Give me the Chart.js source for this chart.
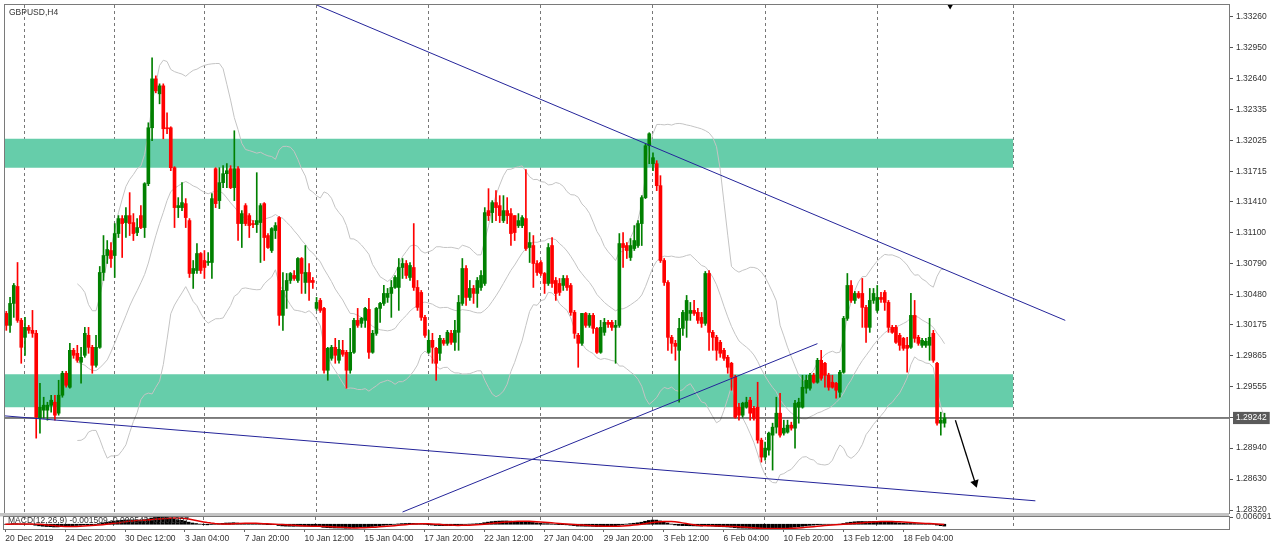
<!DOCTYPE html>
<html><head><meta charset="utf-8">
<script src="https://cdn.jsdelivr.net/npm/chart.js@4.4.1/dist/chart.umd.min.js"></script>
<style>
html,body{margin:0;padding:0;background:#fff;}
#wrap{position:relative;width:1280px;height:551px;overflow:hidden;background:#fff}
#c1{position:absolute;left:0;top:0}
#c2{position:absolute;left:0;top:513px}
</style></head><body>
<div id="wrap"><canvas id="c1" width="1280" height="520" style="width:1280px;height:520px"></canvas><canvas id="c2" width="1280" height="38" style="width:1280px;height:38px"></canvas></div>
<script>
// ---- data (GBPUSD H4, bar index 0 = first visible bar) ----
const opens=[1.3029,1.3017,1.3039,1.3056,1.3022,1.3005,1.3015,1.3012,1.3009,1.2924,1.2932,1.2932,1.2937,1.2940,1.2929,1.2947,1.2969,1.2955,1.2992,1.2989,1.2980,1.2987,1.3007,1.2995,1.2977,1.2995,1.3070,1.3087,1.3092,1.3087,1.3109,1.3124,1.3120,1.3127,1.3120,1.3110,1.3127,1.3115,1.3159,1.3215,1.3264,1.3249,1.3257,1.3215,1.3215,1.3175,1.3135,1.3135,1.3139,1.3122,1.3069,1.3072,1.3089,1.3082,1.3080,1.3080,1.3174,1.3142,1.3160,1.3169,1.3174,1.3155,1.3174,1.3119,1.3137,1.3127,1.3119,1.3118,1.3120,1.3139,1.3107,1.3092,1.3112,1.3125,1.3027,1.3052,1.3062,1.3067,1.3062,1.3084,1.3060,1.3070,1.3062,1.3034,1.3042,1.3034,1.2972,1.2984,1.2995,1.2982,1.2992,1.2990,1.2972,1.2990,1.3022,1.3019,1.3022,1.3033,1.2990,1.3009,1.3034,1.3039,1.3045,1.3049,1.3055,1.3055,1.3075,1.3079,1.3065,1.3075,1.3055,1.3050,1.3025,1.2990,1.3002,1.2994,1.2989,1.3002,1.2999,1.3009,1.3000,1.3010,1.3039,1.3074,1.3045,1.3054,1.3049,1.3055,1.3059,1.3132,1.3130,1.3140,1.3137,1.3122,1.3132,1.3129,1.3127,1.3117,1.3117,1.3124,1.3095,1.3097,1.3079,1.3080,1.3069,1.3059,1.3097,1.3062,1.3059,1.3057,1.3064,1.3057,1.3030,1.3007,1.2999,1.3029,1.3017,1.3027,1.3014,1.2990,1.3010,1.3020,1.3020,1.3015,1.3017,1.3099,1.3097,1.3085,1.3094,1.3097,1.3119,1.3145,1.3197,1.3179,1.3179,1.3157,1.3082,1.3060,1.3005,1.2999,1.2992,1.3014,1.3022,1.3029,1.3032,1.3030,1.3025,1.3019,1.3069,1.3010,1.3005,1.3000,1.2992,1.2985,1.2979,1.2965,1.2935,1.2927,1.2935,1.2942,1.2934,1.2935,1.2902,1.2885,1.2892,1.2907,1.2915,1.2929,1.2909,1.2910,1.2917,1.2914,1.2935,1.2935,1.2954,1.2954,1.2967,1.2960,1.2982,1.2979,1.2967,1.2960,1.2959,1.2950,1.2970,1.3024,1.3057,1.3042,1.3049,1.3049,1.3035,1.3015,1.3042,1.3032,1.3045,1.3050,1.3040,1.3015,1.3015,1.3007,1.3004,1.2997,1.2995,1.3027,1.3005,1.2997,1.2997,1.2997,1.3009,1.2979,1.2919,1.2919];
const highs=[1.3031,1.3045,1.3059,1.3080,1.3024,1.3025,1.3017,1.3032,1.3012,1.2959,1.2945,1.2940,1.2947,1.2947,1.2962,1.2971,1.2971,1.2999,1.2994,1.2997,1.2995,1.3015,1.3015,1.2997,1.3007,1.3076,1.3107,1.3102,1.3100,1.3119,1.3127,1.3127,1.3135,1.3150,1.3129,1.3124,1.3137,1.3160,1.3220,1.3285,1.3267,1.3259,1.3259,1.3230,1.3216,1.3176,1.3145,1.3160,1.3144,1.3124,1.3082,1.3099,1.3090,1.3092,1.3090,1.3149,1.3175,1.3175,1.3177,1.3179,1.3177,1.3212,1.3176,1.3132,1.3139,1.3129,1.3122,1.3170,1.3139,1.3140,1.3109,1.3115,1.3120,1.3126,1.3070,1.3069,1.3070,1.3072,1.3085,1.3085,1.3097,1.3079,1.3065,1.3045,1.3044,1.3035,1.2995,1.2997,1.3004,1.3002,1.3002,1.2992,1.3014,1.3024,1.3034,1.3025,1.3035,1.3044,1.3012,1.3035,1.3040,1.3057,1.3054,1.3062,1.3067,1.3084,1.3084,1.3082,1.3080,1.3119,1.3062,1.3052,1.3027,1.3012,1.3009,1.2995,1.3007,1.3004,1.3012,1.3012,1.3022,1.3047,1.3084,1.3077,1.3062,1.3057,1.3065,1.3072,1.3135,1.3154,1.3142,1.3152,1.3147,1.3147,1.3145,1.3134,1.3127,1.3129,1.3127,1.3173,1.3110,1.3107,1.3082,1.3082,1.3070,1.3099,1.3105,1.3065,1.3064,1.3067,1.3067,1.3059,1.3032,1.3009,1.3029,1.3030,1.3029,1.3029,1.3015,1.3022,1.3024,1.3022,1.3022,1.3022,1.3109,1.3110,1.3100,1.3104,1.3117,1.3122,1.3147,1.3199,1.3210,1.3190,1.3182,1.3167,1.3084,1.3062,1.3007,1.3002,1.3024,1.3032,1.3047,1.3040,1.3042,1.3034,1.3030,1.3071,1.3072,1.3012,1.3007,1.3002,1.2994,1.2987,1.2980,1.2967,1.2939,1.2940,1.2945,1.2945,1.2936,1.2960,1.2904,1.2900,1.2910,1.2919,1.2945,1.2949,1.2922,1.2922,1.2920,1.2942,1.2944,1.2967,1.2967,1.2969,1.2969,1.2984,1.2992,1.2980,1.2969,1.2967,1.2960,1.2972,1.3026,1.3069,1.3062,1.3051,1.3051,1.3064,1.3037,1.3054,1.3054,1.3057,1.3050,1.3052,1.3042,1.3017,1.3017,1.3009,1.3005,1.3005,1.3049,1.3042,1.3007,1.3004,1.3004,1.3024,1.3012,1.2980,1.2930,1.2929];
const lows=[1.3012,1.3010,1.3025,1.3020,1.2979,1.2987,1.3009,1.3005,1.2904,1.2909,1.2924,1.2922,1.2930,1.2922,1.2927,1.2945,1.2955,1.2954,1.2984,1.2980,1.2959,1.2985,1.2989,1.2969,1.2975,1.2994,1.3062,1.3079,1.3075,1.3065,1.3105,1.3085,1.3105,1.3107,1.3102,1.3107,1.3114,1.3105,1.3157,1.3202,1.3250,1.3239,1.3204,1.3209,1.3172,1.3115,1.3125,1.3132,1.3115,1.3065,1.3054,1.3069,1.3069,1.3064,1.3077,1.3064,1.3135,1.3134,1.3155,1.3155,1.3154,1.3142,1.3102,1.3095,1.3117,1.3105,1.3115,1.3110,1.3080,1.3082,1.3094,1.3090,1.3104,1.3017,1.3012,1.3034,1.3059,1.3062,1.3060,1.3049,1.3049,1.3042,1.3054,1.3032,1.3030,1.2969,1.2962,1.2982,1.2979,1.2979,1.2986,1.2954,1.2969,1.2989,1.3015,1.3015,1.3015,1.2984,1.2989,1.3007,1.3020,1.3037,1.3040,1.3025,1.3054,1.3032,1.3064,1.3064,1.3062,1.3052,1.3032,1.3022,1.3005,1.2989,1.2979,1.2962,1.2982,1.2997,1.2997,1.2998,1.2992,1.2992,1.3037,1.3037,1.3042,1.3039,1.3035,1.3052,1.3057,1.3122,1.3120,1.3122,1.3120,1.3120,1.3119,1.3097,1.3102,1.3115,1.3115,1.3092,1.3080,1.3055,1.3067,1.3067,1.3049,1.3057,1.3055,1.3042,1.3047,1.3052,1.3052,1.3027,1.3004,1.2975,1.2997,1.3015,1.3015,1.3009,1.2989,1.2989,1.3007,1.3015,1.3012,1.2979,1.3015,1.3075,1.3084,1.3082,1.3092,1.3095,1.3097,1.3144,1.3179,1.3172,1.3152,1.3080,1.3057,1.2992,1.2989,1.2982,1.2940,1.3007,1.3005,1.3022,1.3027,1.3019,1.3015,1.3017,1.2992,1.2992,1.2982,1.2985,1.2982,1.2969,1.2952,1.2924,1.2922,1.2925,1.2934,1.2922,1.2922,1.2899,1.2880,1.2882,1.2887,1.2872,1.2909,1.2905,1.2907,1.2909,1.2912,1.2894,1.2919,1.2934,1.2949,1.2952,1.2959,1.2959,1.2962,1.2955,1.2952,1.2954,1.2944,1.2945,1.2969,1.3022,1.3040,1.3039,1.3044,1.3015,1.3000,1.3010,1.3039,1.3030,1.3040,1.3032,1.3010,1.3009,1.2999,1.2992,1.2992,1.2970,1.2994,1.3000,1.2997,1.2995,1.2995,1.2982,1.2980,1.2917,1.2907,1.2915];
const closes=[1.3017,1.3039,1.3057,1.3022,1.2995,1.3015,1.3012,1.3009,1.2925,1.2935,1.2937,1.2937,1.2942,1.2927,1.2947,1.2969,1.2957,1.2992,1.2987,1.2982,1.2985,1.3009,1.2995,1.2977,1.2995,1.3070,1.3087,1.3093,1.3084,1.3109,1.3124,1.3119,1.3127,1.3119,1.3109,1.3115,1.3115,1.3159,1.3215,1.3264,1.3252,1.3257,1.3214,1.3214,1.3175,1.3135,1.3137,1.3140,1.3125,1.3069,1.3074,1.3089,1.3072,1.3075,1.3081,1.3144,1.3139,1.3160,1.3169,1.3172,1.3155,1.3174,1.3119,1.3129,1.3119,1.3117,1.3118,1.3122,1.3137,1.3105,1.3095,1.3114,1.3117,1.3027,1.3052,1.3062,1.3069,1.3064,1.3084,1.3069,1.3070,1.3060,1.3060,1.3040,1.3032,1.2972,1.2994,1.2995,1.2987,1.2993,1.2988,1.2972,1.2990,1.3022,1.3017,1.3024,1.3034,1.2990,1.3009,1.3034,1.3039,1.3049,1.3049,1.3055,1.3065,1.3075,1.3079,1.3067,1.3077,1.3055,1.3035,1.3025,1.3007,1.3002,1.2995,1.2979,1.3004,1.2999,1.3010,1.3000,1.3012,1.3040,1.3074,1.3045,1.3054,1.3049,1.3062,1.3067,1.3130,1.3127,1.3140,1.3135,1.3127,1.3132,1.3127,1.3109,1.3110,1.3122,1.3125,1.3094,1.3100,1.3079,1.3070,1.3069,1.3059,1.3095,1.3059,1.3049,1.3050,1.3064,1.3055,1.3030,1.3009,1.2999,1.3029,1.3017,1.3027,1.3014,1.2990,1.3015,1.3020,1.3018,1.3015,1.3017,1.3099,1.3095,1.3092,1.3097,1.3102,1.3119,1.3145,1.3197,1.3209,1.3185,1.3157,1.3082,1.3060,1.3005,1.2999,1.2996,1.3014,1.3030,1.3042,1.3032,1.3029,1.3022,1.3019,1.3069,1.3010,1.3005,1.2992,1.2989,1.2984,1.2975,1.2965,1.2925,1.2927,1.2939,1.2940,1.2929,1.2924,1.2902,1.2885,1.2894,1.2909,1.2915,1.2929,1.2907,1.2914,1.2917,1.2914,1.2939,1.2940,1.2955,1.2962,1.2967,1.2960,1.2982,1.2964,1.2967,1.2955,1.2955,1.2952,1.2970,1.3024,1.3057,1.3042,1.3049,1.3045,1.3035,1.3015,1.3042,1.3049,1.3045,1.3043,1.3040,1.3015,1.3010,1.3000,1.2997,1.2994,1.2994,1.3027,1.3004,1.2999,1.3002,1.3001,1.3005,1.2982,1.2919,1.2922,1.29242];

const timeLabels=["20 Dec 2019","24 Dec 20:00","30 Dec 12:00","3 Jan 04:00","7 Jan 20:00","10 Jan 12:00","15 Jan 04:00","17 Jan 20:00","22 Jan 12:00","27 Jan 04:00","29 Jan 20:00","3 Feb 12:00","6 Feb 04:00","10 Feb 20:00","13 Feb 12:00","18 Feb 04:00"];
const timeLabelIdx=[0,16,32,48,64,80,96,112,128,144,160,176,192,208,224,240];
const weekStartIdx=[5,29,53,83,113,143,173,203,233,269.4];
const priceTicks=[1.33260,1.32950,1.32640,1.32335,1.32025,1.31715,1.31410,1.31100,1.30790,1.30480,1.30175,1.29865,1.29555,1.29242,1.28940,1.28630,1.28320];
const lastPrice=1.29242;
const resistanceZone=[1.3175,1.3204];
const supportZone=[1.2935,1.2968];
const zoneEndIdx=269.4;
const trendUpper=[[83.05,1.3338],[283.3,1.3022]];
const trendLower=[[-0.35,1.29263],[275.3,1.28412]];
const trendRising=[[106.0,1.2830],[217.0,1.29987]];
const arrowDown=[[253.9,1.2922],[259.2,1.2859]];
const arrowTop=[252.5,1.3337];
const macdLabel="MACD(12,26,9) -0.001509 -0.000543 -0.001207";
const macdAxisLabel="0.006091";

const X_MIN=-0.35, X_MAX=327.1, Y_MIN=1.2829, Y_MAX=1.3338;
const UP='#008000', DN='#ff0000';

// ---- indicators derived from closes ----
function bollinger(src,p,k){const m=[],u=[],l=[];for(let i=0;i<src.length;i++){if(i<p-1){continue;}let s=0;for(let j=i-p+1;j<=i;j++)s+=src[j];const a=s/p;let v=0;for(let j=i-p+1;j<=i;j++)v+=(src[j]-a)*(src[j]-a);const sd=Math.sqrt(v/p);m.push({x:i,y:a});u.push({x:i,y:a+k*sd});l.push({x:i,y:a-k*sd});}return {m,u,l};}
function ema(src,p){const k=2/(p+1);const o=[];let e=src[0];for(let i=0;i<src.length;i++){e=i===0?src[0]:src[i]*k+e*(1-k);o.push(e);}return o;}
const bb=bollinger(closes,20,2);
const e12=ema(closes,12), e26=ema(closes,26);
const macd=closes.map((c,i)=>e12[i]-e26[i]);
const sig=macd.map((v,i)=>{const a=Math.max(0,i-8);let s=0;for(let j=a;j<=i;j++)s+=macd[j];return s/(i-a+1);});

const colors=closes.map((c,i)=>c>=opens[i]?UP:DN);
const pts=a=>a.map(p=>({x:p[0],y:p[1]}));
const noPad=s=>{s.paddingTop=0;s.paddingBottom=0;s.paddingLeft=0;s.paddingRight=0;};

const framePlugin={id:'frame',afterDraw(c,args,opts){const a=c.chartArea,ctx=c.ctx;ctx.save();ctx.strokeStyle='#7a7a7a';ctx.lineWidth=1;ctx.strokeRect(Math.round(a.left)-0.5,Math.round(a.top)-0.5,Math.round(a.right-a.left)+1,Math.round(a.bottom-a.top)+1);
 if(opts.text){ctx.fillStyle='#333';ctx.font='8.5px "Liberation Sans"';ctx.textBaseline='middle';ctx.fillText(opts.text,a.left+4,a.top+opts.dy);} ctx.restore();},
 beforeDraw(c,args,opts){if(opts.sep){const ctx=c.ctx;ctx.save();ctx.fillStyle='#c4c4c4';ctx.fillRect(0,0,c.chartArea.right,c.chartArea.top-0.5);ctx.restore();}}};

const lineDs=(data,color,extra)=>Object.assign({type:'line',data,borderColor:color,borderWidth:1,pointRadius:0,fill:false,tension:0},extra||{});

new Chart(document.getElementById('c1'),{
 type:'bar',
 data:{datasets:[
  lineDs([{x:X_MIN,y:resistanceZone[1]},{x:zoneEndIdx,y:resistanceZone[1]}],'rgba(0,0,0,0)',{order:30}),
  lineDs([{x:X_MIN,y:resistanceZone[0]},{x:zoneEndIdx,y:resistanceZone[0]}],'rgba(0,0,0,0)',{fill:'-1',backgroundColor:'#66cdaa',order:30}),
  lineDs([{x:X_MIN,y:supportZone[1]},{x:zoneEndIdx,y:supportZone[1]}],'rgba(0,0,0,0)',{order:30}),
  lineDs([{x:X_MIN,y:supportZone[0]},{x:zoneEndIdx,y:supportZone[0]}],'rgba(0,0,0,0)',{fill:'-1',backgroundColor:'#66cdaa',order:30}),
  lineDs(bb.u,'#c4c4c4',{order:20}),
  lineDs(bb.m,'#c4c4c4',{order:20}),
  lineDs(bb.l,'#c4c4c4',{order:20}),
  lineDs([{x:X_MIN,y:lastPrice},{x:X_MAX,y:lastPrice}],'#000',{order:15}),
  {type:'bar',data:highs.map((h,i)=>({x:i,y:[lows[i],h]})),backgroundColor:colors,barThickness:1,grouped:false,order:10},
  {type:'bar',data:opens.map((o,i)=>({x:i,y:[o,closes[i]]})),backgroundColor:colors,barThickness:3,minBarLength:1,grouped:false,order:9},
  lineDs(pts(trendUpper),'#24249a',{order:2}),
  lineDs(pts(trendLower),'#24249a',{order:2}),
  lineDs(pts(trendRising),'#24249a',{order:2}),
  lineDs(pts(arrowDown),'#000',{borderWidth:1.3,order:1,pointRadius:[0,5],pointStyle:'triangle',pointRotation:162,pointBackgroundColor:'#000',pointBorderWidth:0}),
  lineDs([{x:arrowTop[0],y:arrowTop[1]}],'#000',{order:1,pointRadius:3.5,pointStyle:'triangle',pointRotation:180,pointBackgroundColor:'#000',pointBorderWidth:0})
 ]},
 options:{responsive:false,animation:false,events:[],
  layout:{padding:{left:4,top:4,right:0,bottom:7}},
  plugins:{legend:{display:false},tooltip:{enabled:false},frame:{text:'GBPUSD,H4',dy:8}},
  scales:{
   x:{type:'linear',min:X_MIN,max:X_MAX,offset:false,
     afterBuildTicks:s=>{s.ticks=weekStartIdx.map(v=>({value:v}));},
     afterFit:s=>{s.height=0;noPad(s);},
     ticks:{display:false},
     grid:{color:'#777',lineWidth:1,drawTicks:false,offset:false},
     border:{display:false,dash:[3,3]}},
   y:{position:'right',min:Y_MIN,max:Y_MAX,
     afterBuildTicks:s=>{s.ticks=priceTicks.map(v=>({value:v}));},
     afterFit:s=>{s.width=51;noPad(s);},
     grid:{drawOnChartArea:false,drawTicks:true,tickLength:4,color:'#555'},
     border:{display:true,color:'#7a7a7a'},
     ticks:{autoSkip:false,padding:3,font:{family:'Liberation Sans',size:8.5},
       color:ctx=>ctx.tick&&ctx.tick.value===lastPrice?'#fff':'#333',
       showLabelBackdrop:true,
       backdropColor:ctx=>ctx.tick&&ctx.tick.value===lastPrice?'#5a5a5a':'rgba(0,0,0,0)',
       backdropPadding:{x:3,y:1},
       callback:v=>Number(v).toFixed(5)}}
  }},
 plugins:[framePlugin]
});

const mMax=Math.max(...macd,...sig), mMin=Math.min(...macd,...sig);
new Chart(document.getElementById('c2'),{
 type:'bar',
 data:{datasets:[
  {type:'bar',data:macd.map((v,i)=>({x:i,y:v})),backgroundColor:'#000',barThickness:3,grouped:false,yAxisID:'ym',order:2},
  lineDs(sig.map((v,i)=>({x:i,y:v})),'#e00000',{yAxisID:'ym',borderWidth:1.5,order:1})
 ]},
 options:{responsive:false,animation:false,events:[],
  layout:{padding:{left:4,top:4,right:0,bottom:0}},
  plugins:{legend:{display:false},tooltip:{enabled:false},frame:{text:macdLabel,dy:4,sep:true}},
  scales:{
   x:{type:'linear',min:X_MIN,max:X_MAX,offset:false,position:'bottom',
     afterBuildTicks:s=>{s.ticks=timeLabelIdx.map(v=>({value:v}));},
     afterFit:s=>{s.height=22;noPad(s);},
     ticks:{autoSkip:false,maxRotation:0,align:'start',padding:2,font:{family:'Liberation Sans',size:8.5},color:'#333',
       callback:(v,i)=>timeLabels[i]},
     grid:{drawOnChartArea:false,drawTicks:true,tickLength:3,color:'#666',offset:false},
     border:{display:true,color:'#7a7a7a'}},
   xw:{type:'linear',axis:'x',min:X_MIN,max:X_MAX,offset:false,position:'bottom',
     afterBuildTicks:s=>{s.ticks=weekStartIdx.map(v=>({value:v}));},
     afterFit:s=>{s.height=0;noPad(s);},
     ticks:{display:false},
     grid:{color:'#777',drawTicks:false,offset:false},
     border:{display:false,dash:[3,3]}},
   ym:{position:'right',min:mMin,max:mMax,
     afterBuildTicks:s=>{s.ticks=[{value:mMax}];},
     afterFit:s=>{s.width=51;noPad(s);},
     grid:{drawOnChartArea:false,drawTicks:true,tickLength:4,color:'#555'},
     border:{display:true,color:'#7a7a7a'},
     ticks:{autoSkip:false,padding:3,font:{family:'Liberation Sans',size:8.5},color:'#333',callback:()=>macdAxisLabel}}
  }},
 plugins:[framePlugin]
});
</script></body></html>
